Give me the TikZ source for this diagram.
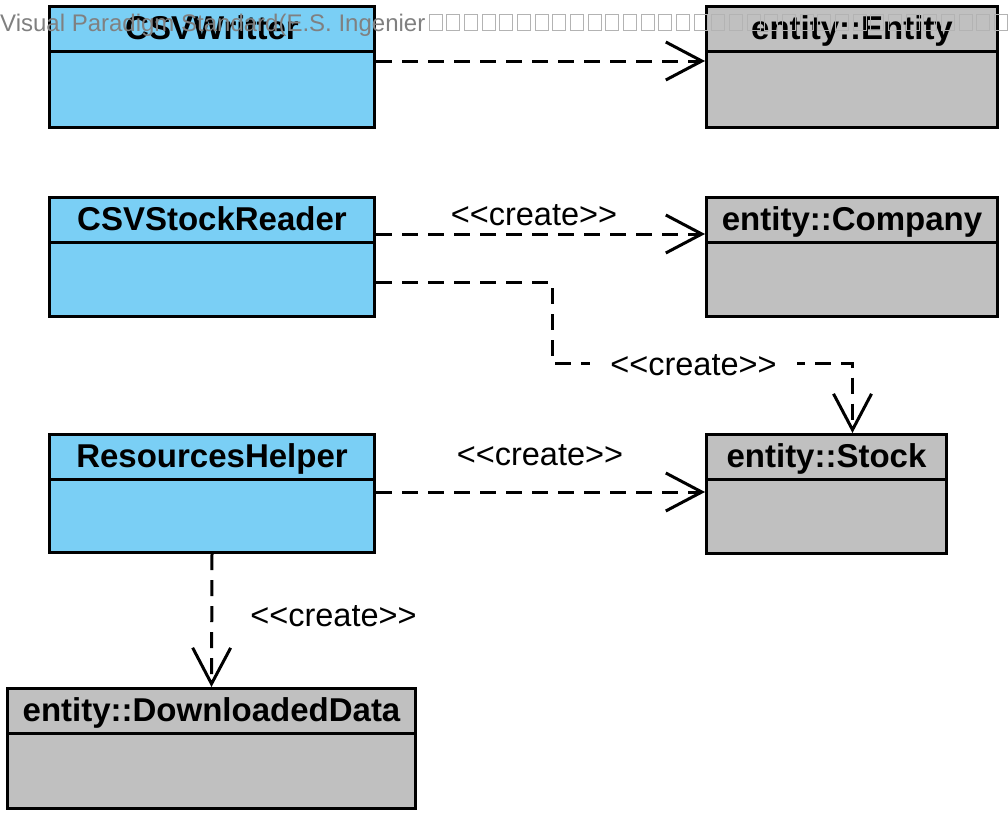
\documentclass[tikz,border=0pt]{standalone}
\usepackage{fontspec}
\setmainfont{Liberation Sans}[Ligatures=TeXOff]
\usetikzlibrary{arrows.meta,positioning}
\definecolor{classBlue}{RGB}{122,207,245}
\definecolor{entityGray}{RGB}{192,192,192}
\definecolor{markGray}{RGB}{128,128,128}
\newcommand{\umlfont}{\fontsize{32.5pt}{38pt}\selectfont}
\newcommand{\umlheadfont}{\fontsize{33pt}{39pt}\selectfont}
\tikzset{
  classbox/.style={draw, line width=3pt, anchor=north west, inner sep=0pt},
  javaclass/.style={classbox, fill=classBlue},
  entityclass/.style={classbox, fill=entityGray},
  classname/.style={font=\umlheadfont\bfseries, text height=23pt, text depth=0pt, inner sep=0pt},
  divider/.style={line width=3pt},
  dep/.style={line width=3pt, dash pattern=on 16pt off 10pt,
    -{Straight Barb[length=36pt,width=38pt,line width=3pt]}},
  stereo/.style={font=\umlfont, anchor=base, inner sep=0pt},
  wmark/.style={font=\fontsize{24pt}{28pt}\selectfont, text=markGray, anchor=base west, inner sep=0pt},
  wmarkbox/.style={draw=markGray!60, line width=0.8pt}
}

\begin{document}
\begin{tikzpicture}[x=1pt,y=-1pt]
    \useasboundingbox (0,0) rectangle (1008,819);
    \node[javaclass, minimum width=325pt, minimum height=121pt] (writer) at (48,5) {};
    \node[entityclass, minimum width=291pt, minimum height=121pt] (entity) at (705,5) {};
    \node[javaclass, minimum width=325pt, minimum height=119pt] (reader) at (48,196) {};
    \node[entityclass, minimum width=291pt, minimum height=119pt] (company) at (705,196) {};
    \node[javaclass, minimum width=325pt, minimum height=118pt] (helper) at (48,433) {};
    \node[entityclass, minimum width=240pt, minimum height=119pt] (stock) at (705,433) {};
    \node[entityclass, minimum width=408pt, minimum height=120pt] (data) at (6,687) {};
    \foreach \c/\t in {writer/CSVWritter, entity/entity::Entity, reader/CSVStockReader,
        company/entity::Company, helper/ResourcesHelper, stock/entity::Stock,
        data/entity::DownloadedData} {
      \draw[divider] ([yshift=-46pt]\c.north west) -- ([yshift=-46pt]\c.north east);
      \node[classname] (\c name) at ([yshift=-23pt]\c.north) {\t};
    }
    \draw[dep] ([yshift=-56pt]writer.north east) -- ([yshift=-56pt]entity.north west);
    \draw[dep] ([yshift=-38pt]reader.north east) -- ([yshift=-38pt]company.north west);
    \node[stereo] (createcompany) at (534,225) {<<create>>};
    \coordinate (readerbend) at (552,363);
    \draw[dep] ([yshift=-86pt]reader.north east) -| (readerbend) -| ([xshift=26pt]stock.north);
    \node[stereo, fill=white, inner xsep=20pt, inner ysep=4pt] (createreaderstock) at (693.5,375) {<<create>>};
    \draw[dep] ([yshift=-59pt]helper.north east) -- ([yshift=-59pt]stock.north west);
    \node[stereo] (createstock) at (540,465) {<<create>>};
    \draw[dep] (helper.south) -- (data.north);
    \node[stereo] (createdata) at (333.5,626) {<<create>>};
    \node[wmark] (watermark) at (0,31) {Visual Paradigm Standard(E.S. Ingenier};
    \foreach \i in {0,...,32}
      \draw[wmarkbox] (429+17.67*\i,14) rectangle ++(13,16);
\end{tikzpicture}
\end{document}
